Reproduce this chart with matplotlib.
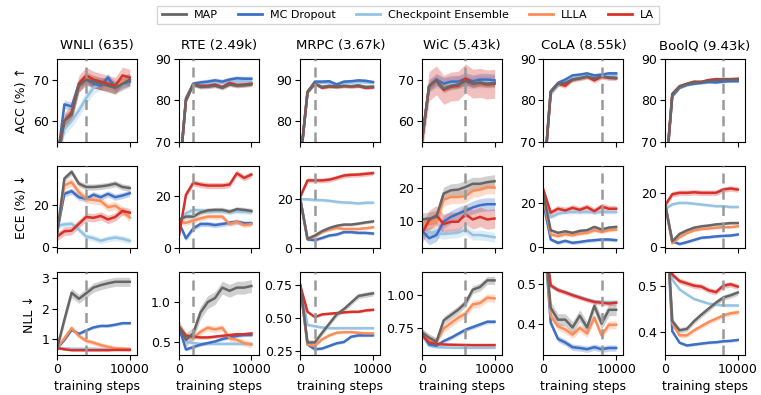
import matplotlib
matplotlib.use("Agg")
import matplotlib.pyplot as plt
import numpy as np
from matplotlib.lines import Line2D

STEPS = [0, 1000, 2000, 3000, 4000, 5000, 6000, 7000, 8000, 9000, 10000]
DATASETS = ["WNLI (635)", "RTE (2.49k)", "MRPC (3.67k)", "WiC (5.43k)", "CoLA (8.55k)", "BoolQ (9.43k)"]
METHODS = ["MAP", "MC Dropout", "Checkpoint Ensemble", "LLLA", "LA"]
VLINE = [4000, 2000, 2000, 6000, 8000, 8000]
ROW_LABELS = ["ACC (%) ↑", "ECE (%) ↓", "NLL ↓"]

# ---------------- ACC ----------------
WNLI_ACC = {
    "MAP": [50, 60, 61.5, 68.5, 70, 69.5, 69, 68.5, 68, 69, 70],
    "MC Dropout": [50, 64, 63.5, 69, 70, 69, 68.5, 70.5, 68, 69, 69.5],
    "Checkpoint Ensemble": [50, 58, 60, 62.5, 65.5, 68, 69, 69, 68.5, 69, 69.5],
    "LLLA": [50, 60, 61.5, 68.5, 70.5, 69.5, 69, 68.8, 68, 69.5, 70],
    "LA": [52, 60, 62, 69, 71, 70, 69.5, 69, 68.5, 71, 70.5],
}
RTE_ACC = {
    "MAP": [60, 80, 83.8, 83.2, 83.3, 83.5, 83, 83.8, 83.5, 83.6, 83.8],
    "MC Dropout": [60, 80.5, 84, 84.3, 84.5, 84.8, 84.5, 85, 85.3, 85.2, 85.2],
    "Checkpoint Ensemble": [60, 80, 84, 84, 84.2, 84.3, 84.2, 84.5, 84.5, 84.5, 84.5],
    "LLLA": [60, 80, 83.8, 83.3, 83.4, 83.6, 83.1, 83.9, 83.5, 83.7, 83.9],
    "LA": [60, 80, 83.8, 83.5, 83.5, 83.8, 83.2, 84.2, 83.7, 83.8, 84],
}
MRPC_ACC = {
    "MAP": [70, 87, 89, 88.2, 88.5, 88.3, 88.5, 88.4, 88.6, 88.2, 88.3],
    "MC Dropout": [70, 87, 89.5, 89.5, 89.6, 88.8, 89.5, 89.6, 89.8, 89.7, 89.4],
    "Checkpoint Ensemble": [70, 87, 89.3, 89.2, 89.3, 88.9, 89.2, 89.3, 89.4, 89.3, 89.2],
    "LLLA": [70, 87, 89, 88.2, 88.4, 88.3, 88.4, 88.3, 88.5, 88.2, 88.2],
    "LA": [70, 87, 89, 88, 88.3, 88.2, 88.4, 88.3, 88.4, 88, 88.1],
}
WIC_ACC = {
    "MAP": [55, 68.4, 69.8, 67.7, 68.5, 68.8, 69.6, 69, 69.3, 69, 69.2],
    "MC Dropout": [55, 68.5, 70, 69, 69.5, 69.5, 70.2, 69.6, 70, 70, 69.8],
    "Checkpoint Ensemble": [55, 68.5, 69.5, 69, 69, 69.3, 69.5, 69.3, 69.5, 69.5, 69.5],
    "LLLA": [55, 68.4, 69.8, 67.8, 68.5, 68.8, 69.8, 69, 69.3, 69, 69.1],
    "LA": [55, 68.4, 69.8, 67.5, 68.3, 68.5, 70.3, 69, 69.2, 68.8, 69],
}
COLA_ACC = {
    "MAP": [60, 82, 84, 84.2, 85, 85.3, 85.7, 85.3, 85.8, 85.5, 85.4],
    "MC Dropout": [60, 82.2, 84.2, 85, 86, 86.2, 86.5, 86, 86.2, 86.5, 86.5],
    "Checkpoint Ensemble": [60, 81.5, 83.5, 84.5, 85.2, 85.6, 85.9, 86, 86.1, 86.1, 86.1],
    "LLLA": [60, 82, 84, 84, 85, 85.3, 85.6, 85.2, 85.7, 85.5, 85.4],
    "LA": [60, 82, 84, 83.5, 85, 85.3, 85.7, 84.8, 85.7, 85.4, 85.3],
}
BOOLQ_ACC = {
    "MAP": [60, 81.5, 83.3, 83.9, 84.3, 84.4, 84.7, 84.8, 85, 85, 85],
    "MC Dropout": [60, 81, 83, 83.7, 84, 84.2, 84.4, 84.3, 84.5, 84.6, 84.6],
    "Checkpoint Ensemble": [60, 81, 83, 83.7, 84, 84.2, 84.5, 84.6, 84.7, 84.8, 84.8],
    "LLLA": [60, 81.5, 83.3, 83.9, 84.4, 84.5, 84.8, 84.9, 85.1, 85.1, 85.1],
    "LA": [60, 81.5, 83.4, 84, 84.5, 84.4, 84.9, 85.1, 85.1, 85.1, 85.2],
}

# ---------------- ECE ----------------
WNLI_ECE = {
    "MAP": [6, 32.8, 36, 30.3, 28.7, 28.7, 29, 29.5, 30.3, 28.7, 28.2],
    "MC Dropout": [7, 25.4, 26.7, 23.8, 23, 25, 23.8, 25.4, 23.8, 24.6, 25.7],
    "Checkpoint Ensemble": [10, 10.7, 11, 8.2, 4.9, 4.1, 2.8, 3.8, 4.4, 3.8, 2.8],
    "LLLA": [7, 29.5, 31, 26.2, 23, 22.5, 22, 19, 19.7, 17.2, 14],
    "LA": [4.9, 7.4, 7.7, 11, 14.3, 13.9, 14.8, 13.1, 14.3, 17.2, 16.4],
}
RTE_ECE = {
    "MAP": [10.8, 12.1, 12.1, 13.7, 14.5, 14.7, 14.7, 14, 15, 14.7, 14.3],
    "MC Dropout": [10, 3.6, 7.5, 9.2, 9.2, 8.8, 9.2, 9.7, 10.1, 9.5, 9.5],
    "Checkpoint Ensemble": [10, 13.4, 14.7, 14.5, 14.3, 14.3, 14.2, 14.2, 14.1, 14, 14],
    "LLLA": [10, 9.7, 10.5, 11.4, 12.1, 12.1, 12.1, 9.2, 10.1, 8.8, 9.2],
    "LA": [4, 20.6, 25.3, 24.6, 24.2, 24.2, 24.2, 24.6, 29, 27.2, 28.5],
}
MRPC_ECE = {
    "MAP": [20, 3.6, 5, 6.8, 8.1, 9, 9.5, 9.5, 9.9, 10.4, 10.8],
    "MC Dropout": [20, 3.4, 3.1, 4, 5, 5.4, 6.4, 6.4, 6.1, 6.1, 5.8],
    "Checkpoint Ensemble": [20, 19.9, 19.6, 19.6, 19.3, 18.9, 18.6, 18.5, 18.2, 18.5, 18.5],
    "LLLA": [20, 3.6, 4.5, 6.4, 7.4, 8.1, 7.7, 7.7, 7.7, 8, 8.4],
    "LA": [21, 27.7, 27.7, 27.7, 28, 28.8, 29.7, 30, 30.1, 30.4, 30.7],
}
WIC_ECE = {
    "MAP": [10.4, 10.7, 11.2, 18.4, 19.4, 19.6, 20.4, 21.4, 21.4, 21.9, 22.2],
    "MC Dropout": [7, 4.6, 5.6, 9.7, 11.2, 12.2, 13.1, 14.1, 14.8, 15.1, 15.1],
    "Checkpoint Ensemble": [6.5, 6.6, 6.1, 5.9, 6.1, 6.3, 7.3, 5.6, 5.6, 5.3, 4.9],
    "LLLA": [9, 9.2, 9.7, 16.5, 17.3, 17.3, 17.6, 19.2, 19.6, 20.4, 20.2],
    "LA": [6, 10.2, 11.7, 9, 9.7, 9.7, 12, 10.4, 11.2, 10.4, 10.7],
}
COLA_ECE = {
    "MAP": [24, 7.8, 6.6, 7.3, 6.6, 7.5, 7.8, 9.3, 8.1, 9, 9.3],
    "MC Dropout": [20, 3.6, 2.1, 3, 2.1, 2.5, 3, 3.3, 3.6, 3.6, 3.3],
    "Checkpoint Ensemble": [22, 13.7, 15.2, 16, 16, 16, 16, 16, 16, 16, 16],
    "LLLA": [22, 6, 5.1, 6, 5.5, 6.3, 6.6, 7.8, 7, 7.8, 8.1],
    "LA": [26, 15.7, 17.5, 16.7, 17.9, 17, 18.2, 16.4, 18.5, 17.5, 17.5],
}
BOOLQ_ECE = {
    "MAP": [16, 2.2, 4.9, 6.2, 7.2, 7.7, 8, 8.4, 8.6, 8.9, 8.9],
    "MC Dropout": [16, 2.2, 1.2, 1.9, 2.7, 3.5, 3.7, 4, 4.2, 4.3, 4.7],
    "Checkpoint Ensemble": [14, 15.8, 16.3, 16.3, 16, 15.7, 15.4, 15.1, 15.1, 14.8, 14.8],
    "LLLA": [16, 1.5, 3.7, 5.2, 6.2, 6.7, 6.9, 7.2, 7.4, 7.4, 7.7],
    "LA": [15.4, 19.5, 20, 20, 20.2, 20, 20, 20, 21.2, 21.6, 21.2],
}

# ---------------- NLL ----------------
WNLI_NLL = {
    "MAP": [0.69, 1.63, 2.52, 2.32, 2.5, 2.69, 2.77, 2.83, 2.88, 2.88, 2.88],
    "MC Dropout": [0.7, 0.97, 1.3, 1.17, 1.28, 1.38, 1.43, 1.43, 1.47, 1.52, 1.52],
    "Checkpoint Ensemble": [0.7, 0.69, 0.68, 0.68, 0.68, 0.68, 0.67, 0.67, 0.67, 0.67, 0.67],
    "LLLA": [0.7, 1.02, 1.36, 1.1, 0.94, 0.88, 0.8, 0.74, 0.69, 0.68, 0.66],
    "LA": [0.7, 0.66, 0.63, 0.63, 0.63, 0.63, 0.63, 0.63, 0.64, 0.64, 0.64],
}
RTE_NLL = {
    "MAP": [0.7, 0.53, 0.61, 0.87, 1.0, 1.05, 1.18, 1.14, 1.18, 1.18, 1.2],
    "MC Dropout": [0.7, 0.41, 0.44, 0.47, 0.49, 0.51, 0.54, 0.56, 0.58, 0.59, 0.59],
    "Checkpoint Ensemble": [0.7, 0.51, 0.49, 0.48, 0.48, 0.48, 0.48, 0.48, 0.48, 0.48, 0.48],
    "LLLA": [0.7, 0.59, 0.55, 0.63, 0.68, 0.66, 0.68, 0.55, 0.53, 0.49, 0.47],
    "LA": [0.7, 0.58, 0.57, 0.56, 0.56, 0.57, 0.58, 0.59, 0.6, 0.6, 0.61],
}
MRPC_NLL = {
    "MAP": [0.75, 0.316, 0.316, 0.39, 0.46, 0.53, 0.57, 0.62, 0.67, 0.68, 0.69],
    "MC Dropout": [0.75, 0.30, 0.265, 0.27, 0.29, 0.31, 0.32, 0.36, 0.37, 0.37, 0.37],
    "Checkpoint Ensemble": [0.75, 0.45, 0.44, 0.43, 0.425, 0.425, 0.425, 0.425, 0.425, 0.425, 0.425],
    "LLLA": [0.75, 0.30, 0.29, 0.34, 0.37, 0.39, 0.395, 0.395, 0.39, 0.385, 0.385],
    "LA": [0.75, 0.55, 0.51, 0.53, 0.535, 0.54, 0.545, 0.55, 0.55, 0.56, 0.565],
}
WIC_NLL = {
    "MAP": [0.72, 0.68, 0.65, 0.81, 0.85, 0.89, 0.94, 1.04, 1.06, 1.11, 1.11],
    "MC Dropout": [0.72, 0.63, 0.62, 0.655, 0.68, 0.71, 0.74, 0.76, 0.78, 0.80, 0.80],
    "Checkpoint Ensemble": [0.70, 0.62, 0.61, 0.608, 0.606, 0.605, 0.605, 0.605, 0.605, 0.605, 0.605],
    "LLLA": [0.72, 0.67, 0.65, 0.75, 0.79, 0.83, 0.86, 0.93, 0.94, 0.98, 0.975],
    "LA": [0.70, 0.645, 0.635, 0.63, 0.628, 0.627, 0.626, 0.625, 0.625, 0.625, 0.625],
}
COLA_NLL = {
    "MAP": [0.65, 0.44, 0.41, 0.41, 0.39, 0.42, 0.39, 0.445, 0.40, 0.435, 0.435],
    "MC Dropout": [0.65, 0.402, 0.361, 0.352, 0.34, 0.338, 0.335, 0.34, 0.335, 0.338, 0.338],
    "Checkpoint Ensemble": [0.65, 0.494, 0.487, 0.48, 0.474, 0.468, 0.462, 0.457, 0.455, 0.455, 0.455],
    "LLLA": [0.65, 0.419, 0.393, 0.385, 0.372, 0.389, 0.375, 0.415, 0.37, 0.397, 0.397],
    "LA": [0.65, 0.497, 0.485, 0.479, 0.472, 0.466, 0.46, 0.455, 0.453, 0.451, 0.453],
}
BOOLQ_NLL = {
    "MAP": [0.7, 0.424, 0.404, 0.407, 0.424, 0.438, 0.451, 0.464, 0.475, 0.48, 0.486],
    "MC Dropout": [0.7, 0.402, 0.377, 0.371, 0.373, 0.375, 0.377, 0.378, 0.38, 0.381, 0.383],
    "Checkpoint Ensemble": [0.7, 0.514, 0.493, 0.482, 0.472, 0.467, 0.462, 0.46, 0.458, 0.458, 0.458],
    "LLLA": [0.7, 0.419, 0.393, 0.393, 0.404, 0.413, 0.422, 0.429, 0.436, 0.441, 0.443],
    "LA": [0.7, 0.525, 0.511, 0.506, 0.501, 0.499, 0.491, 0.487, 0.501, 0.504, 0.499],
}

# band half-widths (MAP, MC Dropout, Checkpoint Ensemble, LLLA, LA)
SD_ACC = [[1.5, 1.0, 1.5, 1.5, 2.0], [0.5, 0.6, 0.5, 0.5, 0.5], [0.4, 0.4, 0.4, 0.4, 0.4],
          [0.8, 1.5, 1.5, 1.0, 3.5], [0.4, 0.4, 0.4, 0.4, 0.6], [0.3, 0.3, 0.3, 0.3, 0.3]]
SD_ECE = [[1.5, 1.5, 1.5, 2.0, 2.0], [1.0, 1.0, 1.0, 1.0, 1.2], [0.6, 0.6, 0.6, 0.6, 1.0],
          [2.0, 2.0, 1.5, 2.0, 3.0], [0.8, 0.8, 0.8, 0.8, 1.5], [0.5, 0.5, 0.5, 0.5, 1.0]]
SD_NLL = [[0.15, 0.05, 0.03, 0.08, 0.02], [0.08, 0.02, 0.02, 0.04, 0.02], [0.02, 0.01, 0.01, 0.01, 0.01],
          [0.03, 0.015, 0.008, 0.03, 0.008], [0.015, 0.008, 0.004, 0.01, 0.006],
          [0.006, 0.003, 0.003, 0.005, 0.006]]

YLIMS = [
    [(55, 75), (70, 90), (75, 95), (55, 75), (70, 90), (70, 90)],
    [(-0.8, 39), (-0.3, 32), (-0.3, 33.8), (1.5, 27), (-0.4, 37), (-0.4, 30)],
    [(0.47, 3.19), (0.34, 1.37), (0.22, 0.85), (0.55, 1.17), (0.32, 0.53), (0.35, 0.53)],
]
YTICKS = [
    [[60, 70], [70, 80, 90], [80, 90], [60, 70], [70, 80, 90], [70, 80, 90]],
    [[0, 20], [0, 20], [0, 20], [10, 20], [0, 20], [0, 20]],
    [[1, 2, 3], [0.5, 1.0], [0.25, 0.50, 0.75], [0.75, 1.00], [0.4, 0.5], [0.4, 0.5]],
]
YFMT = [
    ["{:.0f}"] * 6,
    ["{:.0f}"] * 6,
    ["{:.0f}", "{:.1f}", "{:.2f}", "{:.2f}", "{:.1f}", "{:.1f}"],
]

COLORS = {
    "MAP": "#666666",
    "MC Dropout": "#3d6fc4",
    "Checkpoint Ensemble": "#94c3e3",
    "LLLA": "#fc8d59",
    "LA": "#d7312a",
}
DRAW_ORDER = ["Checkpoint Ensemble", "MC Dropout", "LLLA", "LA", "MAP"]

DATA = [
    [WNLI_ACC, RTE_ACC, MRPC_ACC, WIC_ACC, COLA_ACC, BOOLQ_ACC],
    [WNLI_ECE, RTE_ECE, MRPC_ECE, WIC_ECE, COLA_ECE, BOOLQ_ECE],
    [WNLI_NLL, RTE_NLL, MRPC_NLL, WIC_NLL, COLA_NLL, BOOLQ_NLL],
]
SDS = [SD_ACC, SD_ECE, SD_NLL]

plt.rcParams["font.family"] = ["DejaVu Sans"]
fig, axes = plt.subplots(3, 6, figsize=(7.61, 3.95), dpi=100)
fig.subplots_adjust(left=0.075, right=0.979, top=0.851, bottom=0.101, wspace=0.52, hspace=0.29)

x = np.array(STEPS)
for r in range(3):
    for c in range(6):
        ax = axes[r, c]
        d = DATA[r][c]
        for m in DRAW_ORDER:
            y = np.array(d[m], dtype=float)
            sd = SDS[r][c][METHODS.index(m)]
            ax.fill_between(x, y - sd, y + sd, color=COLORS[m], alpha=0.3, lw=0)
            ax.plot(x, y, color=COLORS[m], lw=1.8)
        ax.axvline(VLINE[c], color="#999999", lw=1.8, ls=(0, (4, 2.5)), zorder=5)
        ax.set_xlim(0, 11000)
        ax.set_ylim(*YLIMS[r][c])
        ax.set_yticks(YTICKS[r][c])
        ax.set_yticklabels([YFMT[r][c].format(t) for t in YTICKS[r][c]])
        ax.set_xticks([0, 10000])
        ax.tick_params(labelsize=9, length=3.5, pad=2)
        if r < 2:
            ax.set_xticklabels([])
        else:
            ax.set_xticklabels(["0", "10000"])
            ax.set_xlabel("training steps", fontsize=9, labelpad=3)
        if r == 0:
            ax.set_title(DATASETS[c], fontsize=9.5, pad=7)
        if c == 0:
            ax.set_ylabel(ROW_LABELS[r], fontsize=9)

handles = [Line2D([0], [0], color=COLORS[m], lw=2) for m in METHODS]
fig.legend(handles, METHODS, loc="upper center", bbox_to_anchor=(0.536, 1.0), ncol=5,
           fontsize=8, frameon=True, fancybox=False, edgecolor="#cccccc",
           handlelength=2.2, handletextpad=0.7, columnspacing=1.8, borderpad=0.4)

fig.savefig("out.png", dpi=100)
